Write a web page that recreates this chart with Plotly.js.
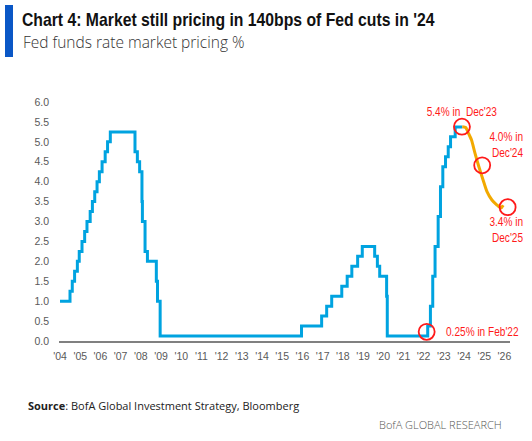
<!DOCTYPE html>
<html>
<head>
<meta charset="utf-8">
<script src="https://cdn.plot.ly/plotly-3.0.1.min.js"></script>
<style>
html,body{margin:0;padding:0;background:#fff;}
#chart{width:532px;height:441px;}
#chart text.gtitle{transform:scaleX(0.83);transform-origin:22px 0px;}
#chart .annotation[data-index="3"] text.annotation-text{transform-box:fill-box;transform-origin:center;transform:scaleX(0.84);}
#chart .annotation[data-index="4"] text.annotation-text,
#chart .annotation[data-index="5"] text.annotation-text{transform-box:fill-box;transform-origin:right center;transform:scaleX(0.84);}
#chart .annotation[data-index="6"] text.annotation-text{transform-box:fill-box;transform-origin:left center;transform:scaleX(0.84);}
</style>
</head>
<body>
<div id="chart"></div>
<script>
// ---- data ----
const blueDates = ['2004-01-01','2004-06-30','2004-08-10','2004-09-21','2004-11-10','2004-12-14','2005-02-02','2005-03-22','2005-05-03','2005-06-30','2005-08-09','2005-09-20','2005-11-01','2005-12-13','2006-01-31','2006-03-28','2006-05-10','2006-06-29','2007-09-18','2007-10-31','2007-12-11','2008-01-22','2008-01-30','2008-03-18','2008-04-30','2008-10-08','2008-10-29','2008-12-16','2015-12-16','2016-12-14','2017-03-15','2017-06-14','2017-12-13','2018-03-21','2018-06-13','2018-09-26','2018-12-19','2019-07-31','2019-09-18','2019-10-30','2020-03-03','2020-03-15','2022-03-16','2022-05-04','2022-06-15','2022-07-27','2022-09-21','2022-11-02','2022-12-14','2023-02-01','2023-03-22','2023-05-03','2023-07-26','2023-12-01'];
const blueValues = [1.00,1.25,1.50,1.75,2.00,2.25,2.50,2.75,3.00,3.25,3.50,3.75,4.00,4.25,4.50,4.75,5.00,5.25,4.75,4.50,4.25,3.50,3.00,2.25,2.00,1.50,1.00,0.125,0.375,0.625,0.875,1.125,1.375,1.625,1.875,2.125,2.375,2.125,1.875,1.625,1.125,0.125,0.375,0.875,1.625,2.375,3.125,3.875,4.375,4.625,4.875,5.125,5.375,5.375];

const orangeDates = ['2023-12-01','2024-01-31','2024-03-20','2024-05-15','2024-07-15','2024-09-25','2024-12-10','2025-02-20','2025-05-20','2025-08-15','2025-11-01','2025-12-10'];
const orangeValues = [5.38,5.36,5.22,5.05,4.73,4.38,4.05,3.75,3.54,3.42,3.34,3.41];

const circleDates = ['2023-11-25','2024-11-25','2026-02-28','2022-02-25'];
const circleValues = [5.38,4.41,3.36,0.23];

const xTickDates = ['2004-01-01','2005-01-01','2006-01-01','2007-01-01','2008-01-01','2009-01-01','2010-01-01','2011-01-01','2012-01-01','2013-01-01','2014-01-01','2015-01-01','2016-01-01','2017-01-01','2018-01-01','2019-01-01','2020-01-01','2021-01-01','2022-01-01','2023-01-01','2024-01-01','2025-01-01','2026-01-01'];
const xTickLabels = ["'04","'05","'06","'07","'08","'09","'10","'11","'12","'13","'14","'15","'16","'17","'18","'19","'20","'21","'22","'23","'24","'25","'26"];
const yTickValues = [0,0.5,1,1.5,2,2.5,3,3.5,4,4.5,5,5.5,6];

const titleText = "Chart 4: Market still pricing in 140bps of Fed cuts in '24";
const subtitleText = "Fed funds rate market pricing %";
const sourceText = "<b>Source</b>: BofA Global Investment Strategy, Bloomberg";
const footerText = "BofA GLOBAL RESEARCH";
const noteTexts = ["5.4% in  Dec'23", "4.0% in<br>Dec'24", "3.4% in<br>Dec'25", "0.25% in Feb'22"];

// ---- layout helpers ----
const W = 532, H = 441;
const M = {l:59, r:22, t:102, b:100};
const PW = W - M.l - M.r, PH = H - M.t - M.b;
const px2x = p => (p - M.l) / PW;
const px2y = p => (H - M.b - p) / PH;

const RED = '#FF1A1A';
const sans = "'Liberation Sans', Arial, sans-serif";

const traces = [
  {x: blueDates, y: blueValues, type:'scatter', mode:'lines', line:{color:'#00A3E0', width:3, shape:'hv'}, hoverinfo:'skip', cliponaxis:false},
  {x: orangeDates, y: orangeValues, type:'scatter', mode:'lines', line:{color:'#F2A900', width:3, shape:'spline', smoothing:0.6}, hoverinfo:'skip', cliponaxis:false},
  {x: circleDates, y: circleValues, type:'scatter', mode:'markers', marker:{symbol:'circle-open', size:16, color:RED, line:{color:RED, width:1.8}}, hoverinfo:'skip', cliponaxis:false}
];

const layout = {
  width: W, height: H,
  margin: M,
  paper_bgcolor:'#fff', plot_bgcolor:'#fff',
  showlegend:false,
  title: {
    text: titleText,
    font: {family: sans, size: 19, weight: 'bold', color:'#111'},
    x: 22/W, xref:'container', xanchor:'left',
    y: 1 - 19/H, yref:'container', yanchor:'middle'
  },
  xaxis: {
    type:'date',
    range:['2003-12-14','2026-04-12'],
    tickmode:'array', tickvals: xTickDates, ticktext: xTickLabels,
    showgrid:false, zeroline:false,
    showline:true, linecolor:'#808080', linewidth:2,
    ticks:'', ticklabelstandoff:4,
    tickfont:{family:sans, size:10.5, color:'#595959'},
    fixedrange:true
  },
  yaxis: {
    range:[0,6],
    tickmode:'array', tickvals: yTickValues, tickformat:'.1f',
    showgrid:false, zeroline:false, showline:false,
    ticks:'', ticklabelstandoff:9,
    tickfont:{family:sans, size:10.5, color:'#595959'},
    fixedrange:true
  },
  shapes: [
    {type:'rect', xref:'paper', yref:'paper', x0:px2x(5), x1:px2x(13), y0:px2y(57), y1:px2y(5), fillcolor:'#0A57C6', line:{width:0}, layer:'above'}
  ],
  annotations: [
    {text: subtitleText, xref:'paper', yref:'paper', x:px2x(21), y:px2y(42), xanchor:'left', yanchor:'middle', showarrow:false,
     font:{family:"'Open Sans', sans-serif", size:15.5, weight:300, color:'#333'}},
    {text: sourceText, xref:'paper', yref:'paper', x:px2x(26), y:px2y(405), xanchor:'left', yanchor:'middle', showarrow:false,
     font:{family:"'Open Sans', sans-serif", size:11, color:'#222'}},
    {text: footerText, xref:'paper', yref:'paper', x:px2x(504), y:px2y(424), xanchor:'right', yanchor:'middle', showarrow:false,
     font:{family:"'Open Sans', sans-serif", size:11, weight:300, color:'#555'}},
    {text: noteTexts[0], xref:'paper', yref:'paper', x:px2x(462), y:px2y(112), xanchor:'center', yanchor:'middle', showarrow:false,
     font:{family:sans, size:12, color:RED}},
    {text: noteTexts[1], xref:'paper', yref:'paper', x:px2x(525), y:px2y(145), xanchor:'right', yanchor:'middle', align:'right', showarrow:false,
     font:{family:sans, size:12, color:RED}},
    {text: noteTexts[2], xref:'paper', yref:'paper', x:px2x(525), y:px2y(230), xanchor:'right', yanchor:'middle', align:'right', showarrow:false,
     font:{family:sans, size:12, color:RED}},
    {text: noteTexts[3], xref:'paper', yref:'paper', x:px2x(444), y:px2y(332), xanchor:'left', yanchor:'middle', showarrow:false,
     font:{family:sans, size:12, color:RED}}
  ]
};

Plotly.newPlot('chart', traces, layout, {displayModeBar:false, staticPlot:true});
</script>
</body>
</html>
